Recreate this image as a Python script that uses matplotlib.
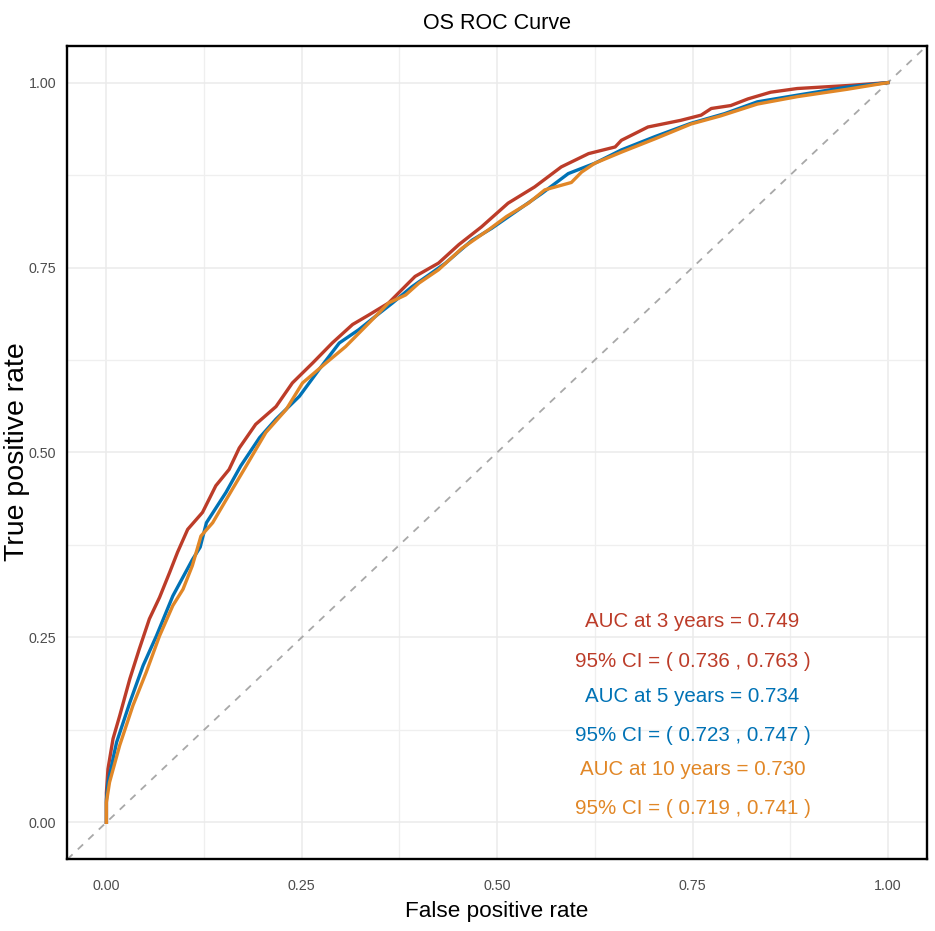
import matplotlib
matplotlib.use("Agg")
import matplotlib.pyplot as plt
from matplotlib import font_manager
from matplotlib.ticker import MultipleLocator

# ---------------- data ----------------
red_fpr = [0, 0.0, 0.002, 0.0085, 0.017, 0.030, 0.042, 0.055, 0.068, 0.081, 0.091, 0.104, 0.123,
           0.140, 0.157, 0.170, 0.191, 0.217, 0.238, 0.264, 0.289, 0.315, 0.336, 0.361, 0.395,
           0.425, 0.451, 0.480, 0.514, 0.548, 0.582, 0.617, 0.651, 0.659, 0.693, 0.735, 0.761,
           0.774, 0.799, 0.821, 0.850, 0.884, 0.948, 1.0]
red_tpr = [0, 0.04, 0.072, 0.113, 0.144, 0.194, 0.234, 0.275, 0.304, 0.338, 0.365, 0.396, 0.419,
           0.455, 0.477, 0.506, 0.538, 0.562, 0.594, 0.621, 0.648, 0.673, 0.686, 0.702, 0.738,
           0.756, 0.781, 0.805, 0.837, 0.859, 0.886, 0.904, 0.913, 0.922, 0.940, 0.949, 0.956,
           0.965, 0.969, 0.978, 0.987, 0.992, 0.996, 1.0]

blue_fpr = [0, 0.0, 0.002, 0.013, 0.030, 0.047, 0.064, 0.085, 0.110, 0.120, 0.128, 0.153, 0.172,
            0.196, 0.217, 0.247, 0.272, 0.298, 0.323, 0.349, 0.366, 0.391, 0.434, 0.468, 0.493,
            0.523, 0.557, 0.591, 0.608, 0.625, 0.659, 0.702, 0.748, 0.791, 0.833, 0.884, 0.948, 1.0]
blue_tpr = [0, 0.03, 0.054, 0.108, 0.162, 0.212, 0.252, 0.306, 0.355, 0.372, 0.405, 0.446, 0.482,
            0.520, 0.545, 0.576, 0.612, 0.648, 0.666, 0.688, 0.702, 0.724, 0.756, 0.787, 0.803,
            0.825, 0.850, 0.877, 0.884, 0.891, 0.909, 0.927, 0.945, 0.958, 0.974, 0.983, 0.994, 1.0]

orange_fpr = [0, 0.0, 0.004, 0.017, 0.034, 0.051, 0.068, 0.085, 0.098, 0.110, 0.121, 0.136, 0.161,
              0.179, 0.204, 0.230, 0.251, 0.281, 0.306, 0.336, 0.361, 0.383, 0.400, 0.425, 0.455,
              0.489, 0.512, 0.540, 0.561, 0.595, 0.608, 0.625, 0.659, 0.702, 0.748, 0.786, 0.833,
              0.884, 0.948, 1.0]
orange_tpr = [0, 0.027, 0.054, 0.104, 0.158, 0.203, 0.252, 0.293, 0.315, 0.347, 0.387, 0.405, 0.450,
              0.482, 0.527, 0.558, 0.594, 0.621, 0.643, 0.675, 0.702, 0.713, 0.729, 0.747, 0.776,
              0.801, 0.819, 0.837, 0.855, 0.865, 0.879, 0.891, 0.906, 0.924, 0.944, 0.955, 0.971,
              0.981, 0.991, 1.0]

series_colors = ["#BC3C29", "#0072B5", "#E18727"]
annot_lines = [
    "AUC at 3 years = 0.749", "95% CI = ( 0.736 , 0.763 )",
    "AUC at 5 years = 0.734", "95% CI = ( 0.723 , 0.747 )",
    "AUC at 10 years = 0.730", "95% CI = ( 0.719 , 0.741 )",
]
annot_colors = ["#BC3C29", "#BC3C29", "#0072B5", "#0072B5", "#E18727", "#E18727"]
annot_y = [0.264, 0.2096, 0.1624, 0.1093, 0.0634, 0.0117]
ticks = [0.0, 0.25, 0.5, 0.75, 1.0]
tick_labels = ["0.00", "0.25", "0.50", "0.75", "1.00"]

# ---------------- fonts ----------------
names = {f.name for f in font_manager.fontManager.ttflist}
if "Liberation Sans Narrow" in names:
    nfam = ["Liberation Sans Narrow", "DejaVu Sans"]
    s_tick, s_ann, s_title, s_xl = 12.5, 18, 18.5, 19.5
else:
    nfam = ["Liberation Sans", "DejaVu Sans"]
    s_tick, s_ann, s_title, s_xl = 10.3, 14.8, 15.5, 16.2
rfam = ["Liberation Sans", "DejaVu Sans"]

fig = plt.figure(figsize=(9.35, 9.31), dpi=100)
ax = fig.add_axes([0.072, 0.077, 0.9194, 0.874])

ax.set_xlim(-0.05, 1.05)
ax.set_ylim(-0.05, 1.05)

ax.xaxis.set_major_locator(MultipleLocator(0.25))
ax.yaxis.set_major_locator(MultipleLocator(0.25))
ax.xaxis.set_minor_locator(MultipleLocator(0.125))
ax.yaxis.set_minor_locator(MultipleLocator(0.125))
ax.grid(which="major", color="#EBEBEB", lw=1.1, zorder=0)
ax.grid(which="minor", color="#EFEFEF", lw=0.9, zorder=0)
ax.set_axisbelow(True)

ax.set_xticks(ticks)
ax.set_xticklabels(tick_labels)
ax.set_yticks(ticks)
ax.set_yticklabels(tick_labels)
ax.tick_params(which="both", length=0)
ax.tick_params(axis="x", pad=14)
ax.tick_params(axis="y", pad=8)
for lab in ax.get_xticklabels() + ax.get_yticklabels():
    lab.set_fontfamily(nfam)
    lab.set_fontsize(s_tick)
    lab.set_color("#4D4D4D")

for sp in ax.spines.values():
    sp.set_color("black")
    sp.set_linewidth(1.7)

ax.plot([-0.05, 1.05], [-0.05, 1.05], ls=(0, (4, 4)), color="#A8A8A8", lw=1.3, zorder=1)

ax.plot(red_fpr, red_tpr, color=series_colors[0], lw=2.4, zorder=3)
ax.plot(blue_fpr, blue_tpr, color=series_colors[1], lw=2.4, zorder=3)
ax.plot(orange_fpr, orange_tpr, color=series_colors[2], lw=2.4, zorder=3)

for txt, c, yv in zip(annot_lines, annot_colors, annot_y):
    ax.text(0.75, yv, txt, color=c, ha="center", va="baseline",
            fontfamily=nfam, fontsize=s_ann, zorder=5)

ax.set_title("OS ROC Curve", fontfamily=nfam, fontsize=s_title, pad=12)
ax.set_xlabel("False positive rate", fontfamily=nfam, fontsize=s_xl, labelpad=6)
fig.text(17 / 935, 1 - 452 / 931, "True positive rate", rotation=90,
         ha="center", va="center", fontfamily=rfam, fontsize=20.5)

fig.savefig("out.png", dpi=100)
